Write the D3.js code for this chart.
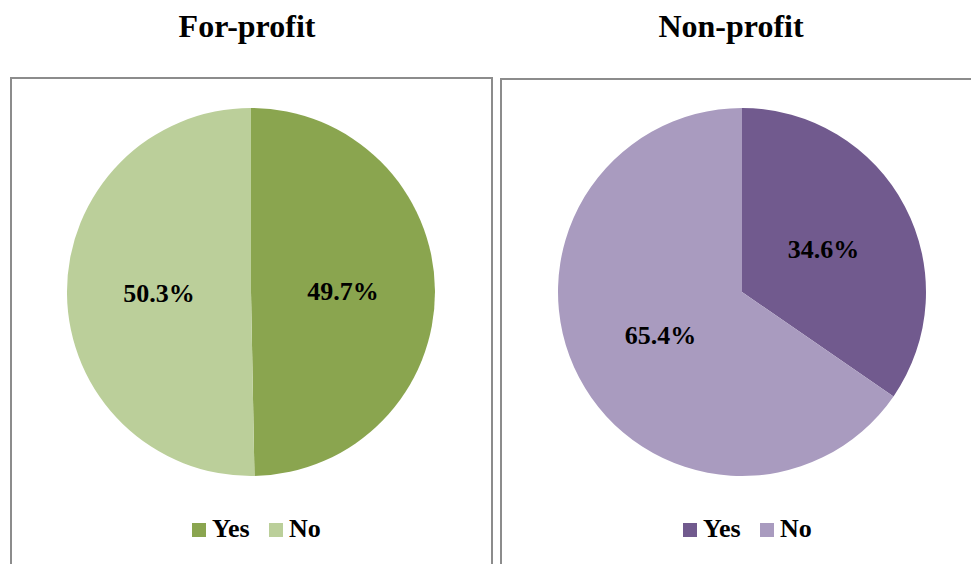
<!DOCTYPE html>
<html>
<head>
<meta charset="utf-8">
<script src="https://cdn.jsdelivr.net/npm/d3@7"></script>
<style>
  html, body { margin: 0; padding: 0; background: #fff; }
  svg { display: block; }
</style>
</head>
<body>
<svg id="chart" width="971" height="564"></svg>
<script>
const titles = ["For-profit", "Non-profit"];
const categories = ["Yes", "No"];
const forProfitValues = [49.7, 50.3];
const nonProfitValues = [34.6, 65.4];
const forProfitColors = ["#8AA54F", "#BBCF9A"];
const nonProfitColors = ["#715A8E", "#A99BBF"];

const FONT = "'Liberation Serif', 'Times New Roman', Times, serif";

const panels = [
  { title: titles[0], values: forProfitValues, colors: forProfitColors, box: [11, 78, 481], cx: 251, titleX: 247 },
  { title: titles[1], values: nonProfitValues, colors: nonProfitColors, box: [501, 79, 480], cx: 742, titleX: 731 }
];

const svg = d3.select("#chart");
const radius = 184;
const cy = 292;

const pie = d3.pie().sort(null).value(d => d.value);
const arc = d3.arc().innerRadius(0).outerRadius(radius);

function styleText(sel, size) {
  return sel.style("font-family", FONT).style("font-weight", "bold")
    .style("font-size", size + "px").attr("fill", "#000");
}

panels.forEach(p => {
  styleText(svg.append("text")
    .attr("x", p.titleX).attr("y", 37)
    .attr("text-anchor", "middle")
    .text(p.title), 32);

  svg.append("rect")
    .attr("x", p.box[0]).attr("y", p.box[1])
    .attr("width", p.box[2]).attr("height", 520)
    .attr("fill", "none")
    .attr("stroke", "#8c8c8c")
    .attr("stroke-width", 2);

  const color = d3.scaleOrdinal().domain(categories).range(p.colors);
  const data = categories.map((c, i) => ({ cat: c, value: p.values[i] }));
  const g = svg.append("g").attr("transform", `translate(${p.cx},${cy})`);
  const arcs = pie(data);

  g.selectAll("path").data(arcs).enter().append("path")
    .attr("d", arc)
    .attr("fill", d => color(d.data.cat));

  styleText(g.selectAll("text.lbl").data(arcs).enter().append("text")
    .attr("class", "lbl")
    .attr("transform", d => `translate(${arc.centroid(d)})`)
    .attr("text-anchor", "middle")
    .attr("dy", "0.35em")
    .text(d => d.data.value.toFixed(1) + "%"), 26);

  const lg = svg.append("g").attr("transform", `translate(${p.cx - 59},522)`);
  const offsets = [0, 77];
  categories.forEach((c, i) => {
    lg.append("rect")
      .attr("x", offsets[i]).attr("y", 1)
      .attr("width", 14).attr("height", 14)
      .attr("fill", color(c));
    styleText(lg.append("text")
      .attr("x", offsets[i] + 20).attr("y", 15)
      .text(c), 26);
  });
});
</script>
</body>
</html>
